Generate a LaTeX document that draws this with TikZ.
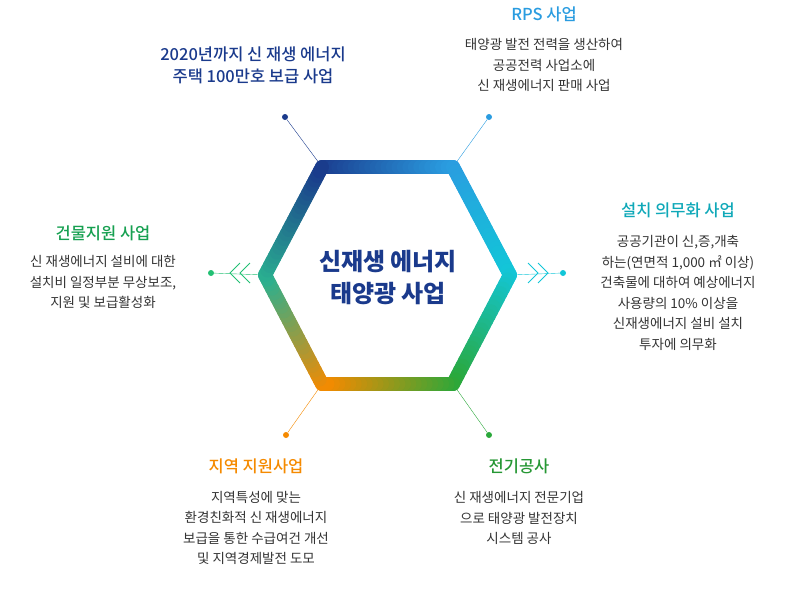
\documentclass[tikz,border=0pt]{standalone}
\usepackage{fontspec}
\usetikzlibrary{calc}
\setmainfont{Noto Sans CJK KR}
\newfontfamily\medfont{Noto Sans CJK KR Medium}
\begin{document}
\begin{tikzpicture}[x=1pt,y=-1pt,
  ttl/.style={font=\medfont\fontsize{16.5}{22}\selectfont,align=center},
  bdy/.style={font=\fontsize{13.5}{20.5}\selectfont,align=center,text=txt},
  dotn/.style={circle,inner sep=0pt,minimum size=6pt}]
\definecolor{c1}{HTML}{1A3A8C}\definecolor{c2}{HTML}{2A9CE0}
\definecolor{c3}{HTML}{12C6D8}\definecolor{c4}{HTML}{2AA83A}
\definecolor{c5}{HTML}{F58A00}\definecolor{c6}{HTML}{2AB090}
\definecolor{txt}{HTML}{333333}
\useasboundingbox (0,0) rectangle (790,600);
\coordinate (v1) at (322,167);\coordinate (v2) at (453,167);
\coordinate (v3) at (510,275);\coordinate (v4) at (453,384);
\coordinate (v5) at (322,384);\coordinate (v6) at (265,275);
% spokes
\node[dotn,fill=c1] (d1) at (285,117) {};
\node[dotn,fill=c2] (d2) at (489,117) {};
\node[dotn,fill=c3] (d3) at (563,273) {};
\node[dotn,fill=c4] (d4) at (489,435) {};
\node[dotn,fill=c5] (d5) at (286,435) {};
\node[dotn,fill=c6!80!green] (d6) at (211,273) {};
\draw[c1,thin] (d1) -- (v1);
\draw[c2,thin] (d2) -- (v2);
\draw[c3,thin] (d3) -- (v3);
\draw[c4,thin] (d4) -- (v4);
\draw[c5,thin] (d5) -- (v5);
\draw[c6!80!green,thin] (d6) -- (v6);
\foreach \x in {528,538}{\draw[c3,line width=1pt] (\x,263) -- (\x+10,273) -- (\x,283);}
\foreach \x in {240,250}{\draw[c6!80!green,line width=1pt] (\x,263) -- (\x-10,273) -- (\x,283);}
% hexagon gradient
\foreach \a/\b/\ca/\cb in {v1/v2/c1/c2,v2/v3/c2/c3,v3/v4/c3/c4,v4/v5/c4/c5,v5/v6/c5/c6,v6/v1/c6/c1}{
  \foreach \i in {0,...,23}{
    \pgfmathsetmacro\t{\i/24}\pgfmathsetmacro\u{(\i+1)/24}
    \pgfmathsetmacro\p{100-100*(\i+0.5)/24}
    \draw[color=\ca!\p!\cb,line width=14pt,line cap=round] ($(\a)!\t!(\b)$) -- ($(\a)!\u!(\b)$);
  }
}
\node[font=\bfseries\fontsize{24}{32}\selectfont,text=c1,align=center] (ctr) at (388,278) {신재생 에너지\\태양광 사업};
% texts
\node[ttl,text=c1] (t1) at (253,65) {2020년까지 신 재생 에너지\\주택 100만호 보급 사업};
\node[ttl,text=c2] (t2) at (544,14) {RPS 사업};
\node[bdy] (b2) at (544,65) {태양광 발전 전력을 생산하여\\공공전력 사업소에\\신 재생에너지 판매 사업};
\node[ttl,text=c3!85!black] (t3) at (678,210) {설치 의무화 사업};
\node[bdy] (b3) at (678,293) {공공기관이 신,증,개축\\하는(연면적 1,000 ㎡ 이상)\\건축물에 대하여 예상에너지\\사용량의 10\% 이상을\\신재생에너지 설비 설치\\투자에 의무화};
\node[ttl,text=c6!70!green!80!black] (t6) at (103,233) {건물지원 사업};
\node[bdy] (b6) at (103,282) {신 재생에너지 설비에 대한\\설치비 일정부분 무상보조,\\지원 및 보급활성화};
\node[ttl,text=c5] (t5) at (256,466) {지역 지원사업};
\node[bdy] (b5) at (256,528) {지역특성에 맞는\\환경친화적 신 재생에너지\\보급을 통한 수급여건 개선\\및 지역경제발전 도모};
\node[ttl,text=c4!90!black] (t4) at (519,466) {전기공사};
\node[bdy] (b4) at (519,518) {신 재생에너지 전문기업\\으로 태양광 발전장치\\시스템 공사};
\end{tikzpicture}
\end{document}
